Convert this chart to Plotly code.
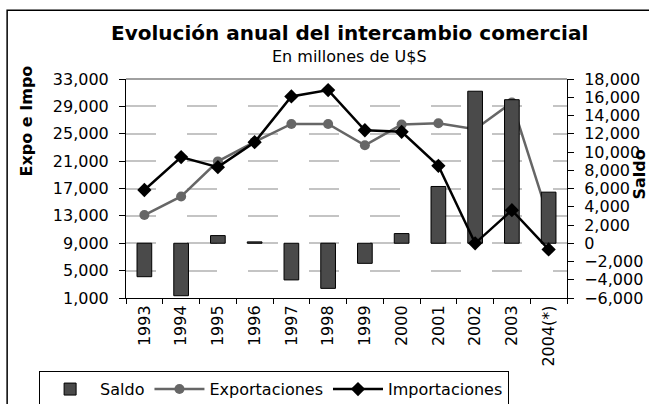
import plotly.graph_objects as go

years = ["1993", "1994", "1995", "1996", "1997", "1998", "1999", "2000", "2001", "2002", "2003", "2004(*)"]
exportaciones = [13118, 15839, 20963, 23811, 26431, 26434, 23309, 26341, 26543, 25651, 29566, 12700]
importaciones = [16784, 21590, 20122, 23762, 30450, 31377, 25508, 25280, 20320, 8990, 13833, 8100]
saldo = [-3666, -5751, 841, 150, -4019, -4944, -2200, 1061, 6223, 16661, 15733, 5600]

left_ticks = list(range(1000, 33001, 4000))
right_ticks = list(range(-6000, 18001, 2000))

FONT = "DejaVu Sans"
W, H = 649, 404
L, R, T, B = 126, 567.5, 78.5, 298.5
pw, ph = R - L, B - T


def px(x):
    return (x - L) / pw


def py(y):
    return (B - y) / ph


fig = go.Figure()

fig.add_trace(go.Scatter(
    x=years, y=exportaciones, name="Exportaciones", yaxis="y",
    mode="lines+markers", line=dict(color="#666666", width=2.5),
    marker=dict(symbol="circle", size=10, color="#666666"),
    legendrank=2,
))
fig.add_trace(go.Bar(
    x=years, y=saldo, name="Saldo", yaxis="y2",
    marker=dict(color="#4a4a4a", line=dict(color="black", width=1)),
    legendrank=1,
))
fig.add_trace(go.Scatter(
    x=years, y=importaciones, name="Importaciones", yaxis="y3",
    mode="lines+markers", line=dict(color="black", width=2.5),
    marker=dict(symbol="diamond", size=11, color="black"),
    legendrank=3,
))

axis_font = dict(family=FONT, size=16, color="black")
n = len(years)
boundaries = [i - 0.5 for i in range(n + 1)]
centers = list(range(n))

fig.update_layout(
    width=W, height=H,
    margin=dict(l=L, r=W - R, t=T, b=H - B, pad=0, autoexpand=False),
    paper_bgcolor="white", plot_bgcolor="white",
    font=dict(family=FONT, color="black"),
    bargap=0.6,
    showlegend=True,
    legend=dict(
        orientation="h", x=px(39), y=py(372), xanchor="left", yanchor="top",
        bordercolor="black", borderwidth=1, bgcolor="white",
        font=dict(family=FONT, size=16, color="black"),
        itemwidth=50, traceorder="normal",
    ),
    xaxis=dict(
        type="category", tickson="boundaries", ticks="outside", ticklen=5,
        tickcolor="black", showline=True, linecolor="black", linewidth=1,
        tickangle=-90, tickfont=axis_font, showgrid=False, zeroline=False,
        range=[-0.5, n - 0.5], automargin=False,
    ),
    xaxis2=dict(
        overlaying="x", anchor="y", side="bottom", range=[-0.5, n - 0.5],
        tickmode="array", tickvals=boundaries, ticks="inside", ticklen=5,
        tickcolor="black", showticklabels=False, showgrid=False, zeroline=False,
        showline=False, automargin=False,
    ),
    xaxis3=dict(
        overlaying="x", anchor="y", side="bottom", range=[-0.5, n - 0.5],
        tickmode="array", tickvals=centers, ticks="outside", ticklen=3,
        tickcolor="black", showticklabels=False, showgrid=False, zeroline=False,
        showline=False, automargin=False,
    ),
    yaxis=dict(
        range=[1000, 33000], tickvals=left_ticks, tickformat=",d",
        ticks="outside", ticklen=6, tickcolor="black", ticklabelstandoff=7,
        showline=True, linecolor="black", linewidth=1,
        showgrid=True, gridcolor="#c4c4c4", gridwidth=1.5, griddash="30px,31px",
        zeroline=False, tickfont=axis_font, automargin=False,
    ),
    yaxis2=dict(
        range=[-6000, 18000], tickvals=right_ticks, tickformat=",d",
        overlaying="y", side="right", anchor="x",
        ticks="outside", ticklen=6, tickcolor="black", ticklabelstandoff=7,
        showline=True, linecolor="black", linewidth=1,
        showgrid=False, zeroline=False, tickfont=axis_font, automargin=False,
    ),
    yaxis3=dict(
        range=[1000, 33000], overlaying="y", side="left", anchor="x",
        visible=False, showgrid=False, zeroline=False,
    ),
    yaxis4=dict(
        range=[1000, 33000], overlaying="y", side="left", anchor="x",
        tickvals=left_ticks, ticks="inside", ticklen=6, tickcolor="black",
        showticklabels=False, showgrid=False, zeroline=False, showline=False,
        automargin=False,
    ),
    yaxis5=dict(
        range=[-6000, 18000], overlaying="y", side="right", anchor="x",
        tickvals=right_ticks, ticks="inside", ticklen=6, tickcolor="black",
        showticklabels=False, showgrid=False, zeroline=False, showline=False,
        automargin=False,
    ),
    annotations=[
        dict(text="<b>Evolución anual del intercambio comercial</b>", xref="paper", yref="paper",
             x=px(350), y=py(32), xanchor="center", yanchor="middle", showarrow=False,
             font=dict(family=FONT, size=20, color="black")),
        dict(text="En millones de U$S", xref="paper", yref="paper",
             x=px(350), y=py(56), xanchor="center", yanchor="middle", showarrow=False,
             font=dict(family=FONT, size=16, color="black")),
        dict(text="<b>Expo e Impo</b>", xref="paper", yref="paper",
             x=px(26), y=py(121), xanchor="center", yanchor="middle", showarrow=False,
             textangle=-90, font=dict(family=FONT, size=16, color="black")),
        dict(text="<b>Saldo</b>", xref="paper", yref="paper",
             x=px(640), y=py(174), xanchor="center", yanchor="middle", showarrow=False,
             textangle=-90, font=dict(family=FONT, size=16, color="black")),
    ],
    shapes=[
        dict(type="line", xref="paper", yref="paper", x0=0, x1=1, y0=1, y1=1,
             line=dict(color="#808080", width=1.5), layer="below"),
        dict(type="rect", xref="paper", yref="paper", x0=px(7), x1=px(700), y0=py(450), y1=py(9.5),
             line=dict(color="black", width=1.5), fillcolor="rgba(0,0,0,0)", layer="above"),
    ],
)

fig.write_html(
    "out.html",
    config={"displayModeBar": False},
    post_script="document.body.style.margin='0px';document.body.style.overflow='hidden';",
)
